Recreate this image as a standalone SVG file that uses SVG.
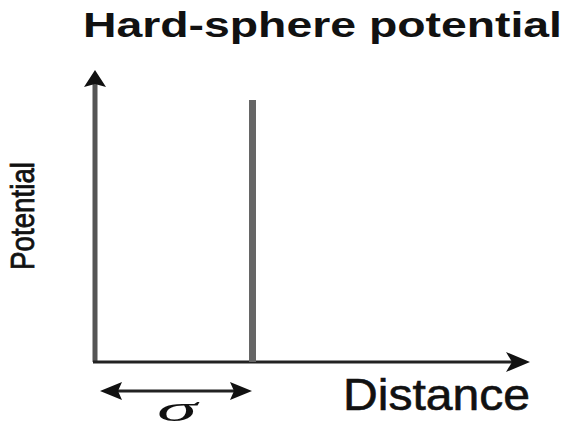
<svg xmlns="http://www.w3.org/2000/svg" width="569" height="428" viewBox="0 0 569 428">
<style>
.t{font-family:"Liberation Sans",Arial,sans-serif;fill:#111}
</style>
<rect width="569" height="428" fill="#fff"/>
<text class="t" x="83" y="37" font-size="35" font-weight="bold" textLength="479" lengthAdjust="spacingAndGlyphs">Hard-sphere potential</text>
<g id="connectors">
<line x1="95" y1="362" x2="95" y2="84" stroke="#555" stroke-width="5"/>
<path d="M95,70 L106,87 L95,84 L84,87 Z" fill="#111"/>
<line x1="93" y1="362" x2="512" y2="362" stroke="#222" stroke-width="3"/>
<path d="M530,362 L506,352 L512,362 L506,372 Z" fill="#111"/>
<line x1="115" y1="391" x2="236" y2="391" stroke="#222" stroke-width="3"/>
<path d="M100,391 L122,382 L118,391 L122,400 Z" fill="#111"/>
<path d="M252,391 L230,382 L234,391 L230,400 Z" fill="#111"/>
</g>
<g id="wall">
<rect x="249" y="100" width="7" height="262" fill="#666"/>
</g>
<g id="labels">
<text class="t" x="343" y="410" font-size="45" stroke="#111" stroke-width="0.6" textLength="187" lengthAdjust="spacingAndGlyphs">Distance</text>
<text class="t" transform="translate(34,216) rotate(-90)" text-anchor="middle" font-size="33" stroke="#111" stroke-width="0.8" textLength="108" lengthAdjust="spacingAndGlyphs">Potential</text>
<text x="157" y="421" font-family="Liberation Serif,serif" font-style="italic" font-size="36" fill="#111" textLength="40" lengthAdjust="spacingAndGlyphs">σ</text>
</g>
</svg>
